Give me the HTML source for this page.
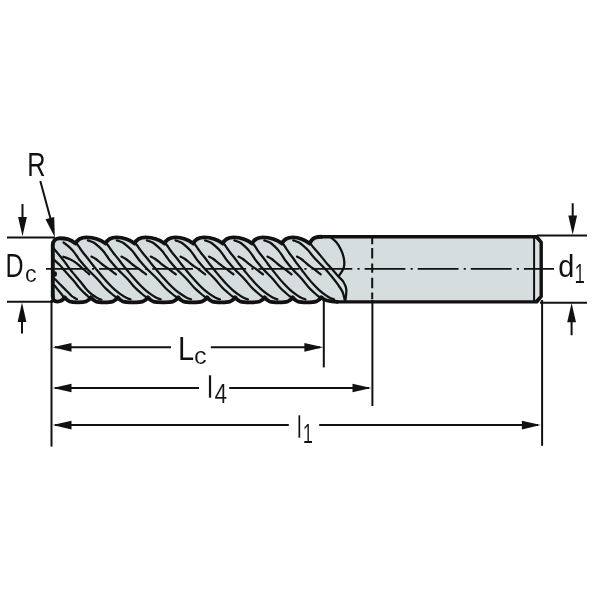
<!DOCTYPE html><html><head><meta charset="utf-8"><style>html,body{margin:0;padding:0;background:#fff;overflow:hidden}svg{display:block}text{font-family:"Liberation Sans",sans-serif}</style></head><body><svg width="600" height="600" viewBox="0 0 600 600">
<defs><clipPath id="tc"><path d="M52.8,296.5 L52.8,245.2 C52.8,241.0 55.4,238.2 59.6,238.2 C65.8,238.2 69.6,238.6 75.6,243.5 C77.8,238.6 82.1,237.4 86.6,237.4 C91.6,237.4 99.6,238.9 105.6,243.5 C107.8,238.6 112.1,237.4 116.6,237.4 C121.6,237.4 128.6,238.9 134.6,243.5 C136.8,238.6 141.1,237.4 145.6,237.4 C150.6,237.4 158.6,238.9 164.6,243.5 C166.8,238.6 171.1,237.4 175.6,237.4 C180.6,237.4 187.3,238.9 193.3,243.5 C195.5,238.6 199.8,237.4 204.3,237.4 C209.3,237.4 216.8,238.9 222.8,243.5 C225.0,238.6 229.3,237.4 233.8,237.4 C238.8,237.4 246.1,238.9 252.1,243.5 C254.3,238.6 258.6,237.4 263.1,237.4 C268.1,237.4 276.0,238.9 282.0,243.5 C284.2,238.6 288.5,237.4 293.0,237.4 C298.0,237.4 303.6,238.9 309.6,243.5 C312.6,237.2 316.6,236.7 321.6,236.7 L537,236.7 L541.2,241.7 L541.2,296.9 L537.5,301.9 L337.3,301.9 C329.3,301.8 324.3,300.8 321.3,297.3 C318.8,301.7 315.3,302.3 307.0,302.3 C298.7,302.3 295.2,301.7 292.7,297.3 C290.2,301.7 286.7,302.3 278.7,302.3 C270.7,302.3 267.2,301.7 264.7,297.3 C262.2,301.7 258.7,302.3 249.95,302.3 C241.2,302.3 237.7,301.7 235.2,297.3 C232.7,301.7 229.2,302.3 221.2,302.3 C213.2,302.3 209.7,301.7 207.2,297.3 C204.7,301.7 201.2,302.3 192.75,302.3 C184.3,302.3 180.8,301.7 178.3,297.3 C175.8,301.7 172.3,302.3 163.15,302.3 C154.0,302.3 150.5,301.7 148.0,297.3 C145.5,301.7 142.0,302.3 132.9,302.3 C123.8,302.3 120.3,301.7 117.8,297.3 C115.3,301.7 111.8,302.3 104.4,302.3 C97.0,302.3 93.5,301.7 91.0,297.3 C88.5,301.7 85.0,302.3 77.875,302.3 C70.75,302.3 67.25,301.7 64.75,297.3 C62.75,300.5 59.75,301.6 57.3,301.6 Q52.8,301.6 52.8,296.5 Z"/></clipPath></defs>
<rect width="600" height="600" fill="#fff"/>
<path d="M52.8,296.5 L52.8,245.2 C52.8,241.0 55.4,238.2 59.6,238.2 C65.8,238.2 69.6,238.6 75.6,243.5 C77.8,238.6 82.1,237.4 86.6,237.4 C91.6,237.4 99.6,238.9 105.6,243.5 C107.8,238.6 112.1,237.4 116.6,237.4 C121.6,237.4 128.6,238.9 134.6,243.5 C136.8,238.6 141.1,237.4 145.6,237.4 C150.6,237.4 158.6,238.9 164.6,243.5 C166.8,238.6 171.1,237.4 175.6,237.4 C180.6,237.4 187.3,238.9 193.3,243.5 C195.5,238.6 199.8,237.4 204.3,237.4 C209.3,237.4 216.8,238.9 222.8,243.5 C225.0,238.6 229.3,237.4 233.8,237.4 C238.8,237.4 246.1,238.9 252.1,243.5 C254.3,238.6 258.6,237.4 263.1,237.4 C268.1,237.4 276.0,238.9 282.0,243.5 C284.2,238.6 288.5,237.4 293.0,237.4 C298.0,237.4 303.6,238.9 309.6,243.5 C312.6,237.2 316.6,236.7 321.6,236.7 L537,236.7 L541.2,241.7 L541.2,296.9 L537.5,301.9 L337.3,301.9 C329.3,301.8 324.3,300.8 321.3,297.3 C318.8,301.7 315.3,302.3 307.0,302.3 C298.7,302.3 295.2,301.7 292.7,297.3 C290.2,301.7 286.7,302.3 278.7,302.3 C270.7,302.3 267.2,301.7 264.7,297.3 C262.2,301.7 258.7,302.3 249.95,302.3 C241.2,302.3 237.7,301.7 235.2,297.3 C232.7,301.7 229.2,302.3 221.2,302.3 C213.2,302.3 209.7,301.7 207.2,297.3 C204.7,301.7 201.2,302.3 192.75,302.3 C184.3,302.3 180.8,301.7 178.3,297.3 C175.8,301.7 172.3,302.3 163.15,302.3 C154.0,302.3 150.5,301.7 148.0,297.3 C145.5,301.7 142.0,302.3 132.9,302.3 C123.8,302.3 120.3,301.7 117.8,297.3 C115.3,301.7 111.8,302.3 104.4,302.3 C97.0,302.3 93.5,301.7 91.0,297.3 C88.5,301.7 85.0,302.3 77.875,302.3 C70.75,302.3 67.25,301.7 64.75,297.3 C62.75,300.5 59.75,301.6 57.3,301.6 Q52.8,301.6 52.8,296.5 Z" fill="#d5dddf"/>
<rect x="534.1" y="236.7" width="7.1" height="65.2" fill="#dbe2e4"/>
<g clip-path="url(#tc)" fill="none" stroke="#111" stroke-width="2.25" stroke-linecap="round" stroke-linejoin="round">
<path d="M63.57,242.50 C64.39,243.15 66.97,245.05 68.50,246.40 C70.02,247.75 71.33,249.00 72.72,250.60 C74.10,252.20 75.53,254.27 76.81,256.00 C78.10,257.73 78.58,258.75 80.42,261.00 C82.26,263.25 85.06,266.53 87.85,269.50 C90.65,272.47 94.32,275.75 97.17,278.80 C100.03,281.85 102.73,285.43 105.00,287.80 C107.27,290.17 109.15,291.57 110.80,293.00 C112.46,294.43 113.77,295.52 114.94,296.40 C116.10,297.28 117.32,297.98 117.80,298.30"/>
<path d="M75.57,242.50 C75.93,242.92 76.91,243.92 77.72,245.00 C78.54,246.08 79.51,247.67 80.45,249.00 C81.39,250.33 82.13,251.42 83.37,253.00 C84.61,254.58 86.40,256.63 87.86,258.50 C89.33,260.37 90.63,262.25 92.15,264.20 C93.68,266.15 95.22,267.97 97.04,270.20 C98.86,272.43 101.08,275.25 103.10,277.60 C105.12,279.95 107.24,282.30 109.17,284.30 C111.10,286.30 112.85,288.02 114.67,289.60 C116.49,291.18 118.24,292.50 120.09,293.80 C121.93,295.10 123.98,296.47 125.72,297.40 C127.45,298.33 129.70,299.07 130.50,299.40"/>
<path d="M91.40,256.60 C92.14,257.00 94.32,257.95 95.85,259.00 C97.38,260.05 99.10,261.70 100.58,262.90 C102.06,264.10 103.24,265.13 104.72,266.20 C106.20,267.27 108.08,268.32 109.46,269.30 C110.84,270.28 111.92,271.27 113.00,272.10 C114.09,272.93 115.47,273.93 115.96,274.30"/>
<path d="M87.90,240.40 C88.85,240.75 91.81,241.50 93.58,242.50 C95.35,243.50 96.99,245.05 98.52,246.40 C100.04,247.75 101.36,249.00 102.75,250.60 C104.14,252.20 105.57,254.27 106.86,256.00 C108.15,257.73 108.64,258.75 110.49,261.00 C112.33,263.25 115.15,266.53 117.95,269.50 C120.76,272.47 124.44,275.75 127.31,278.80 C130.18,281.85 132.89,285.43 135.16,287.80 C137.44,290.17 139.32,291.57 140.98,293.00 C142.64,294.43 143.96,295.52 145.13,296.40 C146.30,297.28 147.52,297.98 148.00,298.30"/>
<path d="M105.58,242.50 C105.94,242.92 106.92,243.92 107.74,245.00 C108.55,246.08 109.53,247.67 110.47,249.00 C111.42,250.33 112.17,251.42 113.41,253.00 C114.65,254.58 116.45,256.63 117.93,258.50 C119.40,260.37 120.70,262.25 122.24,264.20 C123.77,266.15 125.31,267.97 127.14,270.20 C128.97,272.43 131.20,275.25 133.23,277.60 C135.25,279.95 137.38,282.30 139.32,284.30 C141.26,286.30 143.01,288.02 144.84,289.60 C146.66,291.18 148.42,292.50 150.27,293.80 C152.12,295.10 154.18,296.47 155.91,297.40 C157.65,298.33 159.90,299.07 160.70,299.40"/>
<path d="M121.45,256.60 C122.20,257.00 124.38,257.95 125.92,259.00 C127.45,260.05 129.17,261.70 130.66,262.90 C132.14,264.10 133.32,265.13 134.80,266.20 C136.29,267.27 138.17,268.32 139.56,269.30 C140.94,270.28 142.02,271.27 143.11,272.10 C144.20,272.93 145.58,273.93 146.08,274.30"/>
<path d="M116.90,240.40 C117.85,240.75 120.82,241.50 122.61,242.50 C124.40,243.50 126.08,245.05 127.64,246.40 C129.20,247.75 130.54,249.00 131.97,250.60 C133.39,252.20 134.88,254.27 136.20,256.00 C137.53,257.73 138.04,258.75 139.94,261.00 C141.84,263.25 144.73,266.53 147.60,269.50 C150.47,272.47 154.23,275.75 157.16,278.80 C160.10,281.85 162.89,285.43 165.23,287.80 C167.56,290.17 169.47,291.57 171.16,293.00 C172.86,294.43 174.20,295.52 175.39,296.40 C176.58,297.28 177.81,297.98 178.30,298.30"/>
<path d="M134.61,242.50 C134.98,242.92 135.99,243.92 136.83,245.00 C137.67,246.08 138.68,247.67 139.66,249.00 C140.63,250.33 141.41,251.42 142.68,253.00 C143.96,254.58 145.81,256.63 147.32,258.50 C148.84,260.37 150.18,262.25 151.76,264.20 C153.34,266.15 154.92,267.97 156.80,270.20 C158.69,272.43 160.97,275.25 163.06,277.60 C165.14,279.95 167.32,282.30 169.30,284.30 C171.28,286.30 173.08,288.02 174.94,289.60 C176.80,291.18 178.59,292.50 180.47,293.80 C182.34,295.10 184.44,296.47 186.19,297.40 C187.95,298.33 190.20,299.07 191.00,299.40"/>
<path d="M150.81,256.60 C151.56,257.00 153.77,257.95 155.33,259.00 C156.88,260.05 158.64,261.70 160.15,262.90 C161.66,264.10 162.87,265.13 164.38,266.20 C165.88,267.27 167.79,268.32 169.20,269.30 C170.60,270.28 171.71,271.27 172.82,272.10 C173.92,272.93 175.33,273.93 175.83,274.30"/>
<path d="M146.90,240.40 C147.85,240.75 150.81,241.50 152.58,242.50 C154.35,243.50 156.00,245.05 157.53,246.40 C159.07,247.75 160.39,249.00 161.78,250.60 C163.18,252.20 164.62,254.27 165.92,256.00 C167.21,257.73 167.70,258.75 169.56,261.00 C171.41,263.25 174.24,266.53 177.05,269.50 C179.87,272.47 183.56,275.75 186.44,278.80 C189.32,281.85 192.04,285.43 194.33,287.80 C196.62,290.17 198.50,291.57 200.16,293.00 C201.83,294.43 203.15,295.52 204.32,296.40 C205.50,297.28 206.72,297.98 207.20,298.30"/>
<path d="M164.58,242.50 C164.94,242.92 165.93,243.92 166.75,245.00 C167.57,246.08 168.55,247.67 169.50,249.00 C170.45,250.33 171.21,251.42 172.45,253.00 C173.70,254.58 175.51,256.63 176.99,258.50 C178.46,260.37 179.77,262.25 181.32,264.20 C182.86,266.15 184.40,267.97 186.24,270.20 C188.08,272.43 190.31,275.25 192.35,277.60 C194.39,279.95 196.53,282.30 198.47,284.30 C200.41,286.30 202.18,288.02 204.01,289.60 C205.84,291.18 207.60,292.50 209.45,293.80 C211.31,295.10 213.37,296.47 215.11,297.40 C216.85,298.33 219.10,299.07 219.90,299.40"/>
<path d="M180.51,256.60 C181.25,257.00 183.44,257.95 184.98,259.00 C186.52,260.05 188.25,261.70 189.73,262.90 C191.22,264.10 192.41,265.13 193.89,266.20 C195.38,267.27 197.27,268.32 198.65,269.30 C200.04,270.28 201.13,271.27 202.22,272.10 C203.31,272.93 204.70,273.93 205.19,274.30"/>
<path d="M175.60,240.40 C176.54,240.75 179.50,241.50 181.26,242.50 C183.02,243.50 184.65,245.05 186.17,246.40 C187.69,247.75 188.99,249.00 190.37,250.60 C191.74,252.20 193.16,254.27 194.43,256.00 C195.71,257.73 196.18,258.75 198.01,261.00 C199.84,263.25 202.63,266.53 205.40,269.50 C208.18,272.47 211.83,275.75 214.68,278.80 C217.52,281.85 220.20,285.43 222.46,287.80 C224.72,290.17 226.58,291.57 228.23,293.00 C229.88,294.43 231.18,295.52 232.35,296.40 C233.51,297.28 234.72,297.98 235.20,298.30"/>
<path d="M193.26,242.50 C193.62,242.92 194.60,243.92 195.40,245.00 C196.21,246.08 197.17,247.67 198.10,249.00 C199.04,250.33 199.78,251.42 201.01,253.00 C202.23,254.58 204.02,256.63 205.47,258.50 C206.93,260.37 208.21,262.25 209.73,264.20 C211.25,266.15 212.77,267.97 214.59,270.20 C216.40,272.43 218.60,275.25 220.61,277.60 C222.62,279.95 224.72,282.30 226.64,284.30 C228.56,286.30 230.30,288.02 232.11,289.60 C233.92,291.18 235.68,292.50 237.51,293.80 C239.34,295.10 241.39,296.47 243.12,297.40 C244.85,298.33 247.10,299.07 247.90,299.40"/>
<path d="M209.02,256.60 C209.76,257.00 211.94,257.95 213.46,259.00 C214.98,260.05 216.69,261.70 218.16,262.90 C219.64,264.10 220.81,265.13 222.28,266.20 C223.76,267.27 225.63,268.32 227.01,269.30 C228.38,270.28 229.46,271.27 230.54,272.10 C231.62,272.93 233.00,273.93 233.49,274.30"/>
<path d="M205.10,240.40 C206.04,240.75 209.00,241.50 210.76,242.50 C212.52,243.50 214.15,245.05 215.67,246.40 C217.19,247.75 218.49,249.00 219.87,250.60 C221.24,252.20 222.66,254.27 223.93,256.00 C225.21,257.73 225.68,258.75 227.51,261.00 C229.34,263.25 232.13,266.53 234.90,269.50 C237.68,272.47 241.33,275.75 244.18,278.80 C247.02,281.85 249.70,285.43 251.96,287.80 C254.22,290.17 256.08,291.57 257.73,293.00 C259.38,294.43 260.68,295.52 261.85,296.40 C263.01,297.28 264.22,297.98 264.70,298.30"/>
<path d="M222.76,242.50 C223.12,242.92 224.10,243.92 224.90,245.00 C225.71,246.08 226.67,247.67 227.60,249.00 C228.54,250.33 229.28,251.42 230.51,253.00 C231.73,254.58 233.52,256.63 234.97,258.50 C236.43,260.37 237.71,262.25 239.23,264.20 C240.75,266.15 242.27,267.97 244.09,270.20 C245.90,272.43 248.10,275.25 250.11,277.60 C252.12,279.95 254.22,282.30 256.14,284.30 C258.06,286.30 259.80,288.02 261.61,289.60 C263.42,291.18 265.18,292.50 267.01,293.80 C268.84,295.10 270.89,296.47 272.62,297.40 C274.35,298.33 276.60,299.07 277.40,299.40"/>
<path d="M238.52,256.60 C239.26,257.00 241.44,257.95 242.96,259.00 C244.48,260.05 246.19,261.70 247.66,262.90 C249.14,264.10 250.31,265.13 251.78,266.20 C253.26,267.27 255.13,268.32 256.51,269.30 C257.88,270.28 258.96,271.27 260.04,272.10 C261.12,272.93 262.50,273.93 262.99,274.30"/>
<path d="M234.40,240.40 C235.34,240.75 238.29,241.50 240.03,242.50 C241.77,243.50 243.36,245.05 244.85,246.40 C246.33,247.75 247.61,249.00 248.95,250.60 C250.29,252.20 251.66,254.27 252.89,256.00 C254.13,257.73 254.58,258.75 256.36,261.00 C258.13,263.25 260.85,266.53 263.56,269.50 C266.27,272.47 269.85,275.75 272.62,278.80 C275.39,281.85 277.99,285.43 280.19,287.80 C282.40,290.17 284.23,291.57 285.85,293.00 C287.47,294.43 288.75,295.52 289.89,296.40 C291.03,297.28 292.23,297.98 292.70,298.30"/>
<path d="M252.03,242.50 C252.38,242.92 253.33,243.92 254.11,245.00 C254.89,246.08 255.82,247.67 256.72,249.00 C257.63,250.33 258.34,251.42 259.53,253.00 C260.73,254.58 262.46,256.63 263.88,258.50 C265.29,260.37 266.53,262.25 268.01,264.20 C269.48,266.15 270.96,267.97 272.72,270.20 C274.49,272.43 276.62,275.25 278.58,277.60 C280.53,279.95 282.59,282.30 284.46,284.30 C286.33,286.30 288.03,288.02 289.81,289.60 C291.59,291.18 293.31,292.50 295.11,293.80 C296.92,295.10 298.93,296.47 300.64,297.40 C302.36,298.33 304.61,299.07 305.40,299.40"/>
<path d="M267.46,256.60 C268.20,257.00 270.35,257.95 271.85,259.00 C273.35,260.05 275.02,261.70 276.47,262.90 C277.91,264.10 279.06,265.13 280.51,266.20 C281.96,267.27 283.81,268.32 285.17,269.30 C286.52,270.28 287.57,271.27 288.63,272.10 C289.70,272.93 291.05,273.93 291.53,274.30"/>
<path d="M264.30,240.40 C265.23,240.75 268.17,241.50 269.90,242.50 C271.62,243.50 273.17,245.05 274.62,246.40 C276.08,247.75 277.32,249.00 278.63,250.60 C279.93,252.20 281.26,254.27 282.45,256.00 C283.65,257.73 284.08,258.75 285.80,261.00 C287.53,263.25 290.17,266.53 292.81,269.50 C295.45,272.47 298.96,275.75 301.66,278.80 C304.37,281.85 306.88,285.43 309.03,287.80 C311.18,290.17 312.99,291.57 314.57,293.00 C316.15,294.43 317.41,295.52 318.53,296.40 C319.65,297.28 320.84,297.98 321.30,298.30"/>
<path d="M281.90,242.50 C282.23,242.92 283.16,243.92 283.92,245.00 C284.68,246.08 285.57,247.67 286.44,249.00 C287.32,250.33 288.01,251.42 289.16,253.00 C290.32,254.58 292.01,256.63 293.38,258.50 C294.75,260.37 295.95,262.25 297.38,264.20 C298.81,266.15 300.25,267.97 301.96,270.20 C303.67,272.43 305.74,275.25 307.65,277.60 C309.55,279.95 311.55,282.30 313.38,284.30 C315.20,286.30 316.87,288.02 318.61,289.60 C320.35,291.18 322.04,292.50 323.81,293.80 C325.59,295.10 327.57,296.47 329.26,297.40 C330.96,298.33 333.21,299.07 334.00,299.40"/>
<path d="M297.01,256.60 C297.73,257.00 299.87,257.95 301.34,259.00 C302.82,260.05 304.45,261.70 305.87,262.90 C307.29,264.10 308.42,265.13 309.84,266.20 C311.27,267.27 313.09,268.32 314.42,269.30 C315.76,270.28 316.79,271.27 317.83,272.10 C318.87,272.93 320.20,273.93 320.68,274.30"/>
<path d="M52.00,246.50 C52.50,247.08 53.67,248.42 55.00,250.00 C56.33,251.58 58.28,253.88 60.00,256.00 C61.72,258.12 63.63,260.48 65.30,262.70 C66.97,264.92 68.35,267.17 70.00,269.30 C71.65,271.43 73.38,273.33 75.20,275.50 C77.02,277.67 79.18,280.18 80.90,282.30 C82.62,284.42 83.98,286.45 85.50,288.20 C87.02,289.95 88.55,291.50 90.00,292.80 C91.45,294.10 92.82,295.05 94.20,296.00 C95.58,296.95 97.08,297.88 98.30,298.50 C99.52,299.12 100.97,299.50 101.50,299.70"/>
<path d="M53.00,258.80 C53.33,259.12 53.83,259.62 55.00,260.70 C56.17,261.78 58.50,263.75 60.00,265.30 C61.50,266.85 62.45,268.22 64.00,270.00 C65.55,271.78 67.52,274.00 69.30,276.00 C71.08,278.00 73.08,280.08 74.70,282.00 C76.32,283.92 77.62,285.87 79.00,287.50 C80.38,289.13 81.72,290.52 83.00,291.80 C84.28,293.08 85.65,294.25 86.70,295.20 C87.75,296.15 88.53,296.98 89.30,297.50 C90.07,298.02 90.97,298.17 91.30,298.30"/>
<path d="M63.30,256.70 C64.42,257.13 67.77,258.20 70.00,259.30 C72.23,260.40 74.70,261.85 76.70,263.30 C78.70,264.75 80.33,266.55 82.00,268.00 C83.67,269.45 85.48,270.95 86.70,272.00 C87.92,273.05 88.87,273.92 89.30,274.30"/>
<path d="M53.00,277.50 C53.33,277.80 53.83,278.17 55.00,279.30 C56.17,280.43 58.05,282.35 60.00,284.30 C61.95,286.25 64.75,289.05 66.70,291.00 C68.65,292.95 70.45,294.88 71.70,296.00 C72.95,297.12 73.32,297.17 74.20,297.70 C75.08,298.23 76.53,298.95 77.00,299.20"/>
<path d="M53.00,284.30 C53.33,284.58 54.12,285.02 55.00,286.00 C55.88,286.98 57.18,288.82 58.30,290.20 C59.42,291.58 60.87,293.20 61.70,294.30 C62.53,295.40 62.85,296.25 63.30,296.80 C63.75,297.35 64.22,297.47 64.40,297.60"/>
<path d="M293.30,240.40 C294.25,240.75 297.22,241.50 299.00,242.50 C300.78,243.50 302.45,245.05 304.00,246.40 C305.55,247.75 306.52,248.63 308.30,250.60 C310.08,252.57 311.92,255.17 314.70,258.20 C317.48,261.23 322.20,265.78 325.00,268.80 C327.80,271.82 329.33,273.65 331.50,276.30 C333.67,278.95 336.13,282.05 338.00,284.70 C339.87,287.35 341.60,289.73 342.70,292.20 C343.80,294.67 344.28,298.28 344.60,299.50"/>
<path d="M309.60,241.50 C309.93,242.10 309.82,242.78 311.60,245.10 C313.38,247.42 317.45,251.98 320.30,255.40 C323.15,258.82 326.65,263.22 328.70,265.60 C330.75,267.98 331.05,267.97 332.60,269.70 C334.15,271.43 336.18,273.95 338.00,276.00 C339.82,278.05 342.12,279.77 343.50,282.00 C344.88,284.23 345.97,286.40 346.30,289.40 C346.63,292.40 345.63,298.23 345.50,300.00"/>
<path d="M330.60,237.20 C331.57,238.05 334.67,240.20 336.40,242.30 C338.13,244.40 339.77,247.15 341.00,249.80 C342.23,252.45 343.27,255.57 343.80,258.20 C344.33,260.83 344.40,263.60 344.20,265.60 C344.00,267.60 343.43,268.57 342.60,270.20 C341.77,271.83 339.77,274.53 339.20,275.40"/>
</g>
<line x1="46" y1="268.9" x2="554" y2="268.9" stroke="#111" stroke-width="1.9" stroke-dasharray="40.8 5.2 2.1 5"/>
<line x1="372.2" y1="238" x2="372.2" y2="300" stroke="#111" stroke-width="2" stroke-dasharray="6.3 3.7 10.5 5 9.2 5 10.5 4.3 6.8 10"/>
<line x1="534.1" y1="236.7" x2="534.1" y2="301.9" stroke="#111" stroke-width="2"/>
<path d="M535.3,237.6 L539.4,241.6 M535.3,300.8 L539.4,296.6" stroke="#111" stroke-width="1.1" fill="none"/>
<g fill="none" stroke="#111" stroke-width="3.4" stroke-linejoin="round" stroke-linecap="round">
<path d="M52.8,296.5 L52.8,245.2 C52.8,241.0 55.4,238.2 59.6,238.2 C65.8,238.2 69.6,238.6 75.6,243.5 C77.8,238.6 82.1,237.4 86.6,237.4 C91.6,237.4 99.6,238.9 105.6,243.5 C107.8,238.6 112.1,237.4 116.6,237.4 C121.6,237.4 128.6,238.9 134.6,243.5 C136.8,238.6 141.1,237.4 145.6,237.4 C150.6,237.4 158.6,238.9 164.6,243.5 C166.8,238.6 171.1,237.4 175.6,237.4 C180.6,237.4 187.3,238.9 193.3,243.5 C195.5,238.6 199.8,237.4 204.3,237.4 C209.3,237.4 216.8,238.9 222.8,243.5 C225.0,238.6 229.3,237.4 233.8,237.4 C238.8,237.4 246.1,238.9 252.1,243.5 C254.3,238.6 258.6,237.4 263.1,237.4 C268.1,237.4 276.0,238.9 282.0,243.5 C284.2,238.6 288.5,237.4 293.0,237.4 C298.0,237.4 303.6,238.9 309.6,243.5 C312.6,237.2 316.6,236.7 321.6,236.7" stroke-width="3.9"/>
<path d="M52.8,296.5 Q52.8,301.6 57.3,301.6 C59.75,301.6 62.75,300.5 64.75,297.3 C67.25,301.7 70.75,302.3 77.875,302.3 C85.0,302.3 88.5,301.7 91.0,297.3 C93.5,301.7 97.0,302.3 104.4,302.3 C111.8,302.3 115.3,301.7 117.8,297.3 C120.3,301.7 123.8,302.3 132.9,302.3 C142.0,302.3 145.5,301.7 148.0,297.3 C150.5,301.7 154.0,302.3 163.15,302.3 C172.3,302.3 175.8,301.7 178.3,297.3 C180.8,301.7 184.3,302.3 192.75,302.3 C201.2,302.3 204.7,301.7 207.2,297.3 C209.7,301.7 213.2,302.3 221.2,302.3 C229.2,302.3 232.7,301.7 235.2,297.3 C237.7,301.7 241.2,302.3 249.95,302.3 C258.7,302.3 262.2,301.7 264.7,297.3 C267.2,301.7 270.7,302.3 278.7,302.3 C286.7,302.3 290.2,301.7 292.7,297.3 C295.2,301.7 298.7,302.3 307.0,302.3 C315.3,302.3 318.8,301.7 321.3,297.3 C324.3,300.8 329.3,301.8 337.3,301.8" stroke-width="3.8"/>
<path d="M321.6,236.7 L536.6,236.7 L541.2,242.3 L541.2,296.5 L536.8,301.9 L337.3,301.9"/>
</g>
<ellipse cx="55.3" cy="274" rx="1.7" ry="2.7" fill="#111"/>
<g stroke="#111" stroke-width="2" fill="none">
<path d="M7,237.5 H55 M7,301.8 H53"/>
<path d="M537,235.6 H587 M540,302.7 H587"/>
<path d="M22.5,204 V222 M22,333.5 V316"/>
<path d="M572.7,203.3 V222 M571.6,335.3 V316"/>
<path d="M51.5,300 V446.6"/>
<path d="M323.8,300 V367.4"/>
<path d="M372.4,300 V406"/>
<path d="M542.1,300 V445.8"/>
<path d="M55,347.3 H171 M210.8,347.3 H320"/>
<path d="M55,388 H199 M229.2,388 H369"/>
<path d="M55,425.1 H288.8 M319.2,425.1 H538"/>
<path d="M40.3,181.0 L53.6,230"/>
</g>
<path d="M22.50,236.30 L26.90,217.00 L18.10,217.00 Z" fill="#111"/>
<path d="M22.00,302.60 L17.60,321.90 L26.40,321.90 Z" fill="#111"/>
<path d="M572.70,234.80 L577.10,215.50 L568.30,215.50 Z" fill="#111"/>
<path d="M571.60,302.90 L567.20,322.20 L576.00,322.20 Z" fill="#111"/>
<path d="M52.70,347.30 L71.50,351.65 L71.50,342.95 Z" fill="#111"/>
<path d="M323.20,347.30 L304.40,342.95 L304.40,351.65 Z" fill="#111"/>
<path d="M52.70,388.00 L71.50,392.35 L71.50,383.65 Z" fill="#111"/>
<path d="M371.30,388.00 L352.50,383.65 L352.50,392.35 Z" fill="#111"/>
<path d="M52.70,425.10 L71.50,429.45 L71.50,420.75 Z" fill="#111"/>
<path d="M540.70,425.10 L521.90,420.75 L521.90,429.45 Z" fill="#111"/>
<path d="M54.80,237.20 L54.21,216.90 L45.50,219.15 Z" fill="#111"/>
<g style="will-change:transform" font-family="Liberation Sans, sans-serif" fill="#111">
<text transform="translate(27.128 175.800) scale(0.74596 1)" font-size="33.867">R</text>
<text transform="translate(5.550 277.200) scale(0.75401 1)" font-size="33.140">D</text>
<text transform="translate(24.957 281.919) scale(0.94106 1)" font-size="24.678" stroke="#fff" stroke-width="0.120">c</text>
<text transform="translate(558.286 277.194) scale(0.92300 1)" font-size="31.319">d</text>
<text transform="translate(574.518 282.575) scale(0.67505 1)" font-size="27.835" stroke="#fff" stroke-width="0.150">1</text>
<text transform="translate(178.019 359.600) scale(0.87599 1)" font-size="33.140">L</text>
<text transform="translate(194.061 363.923) scale(1.04220 1)" font-size="24.313" stroke="#fff" stroke-width="0.120">c</text>
<text transform="translate(206.973 397.725) scale(0.86601 1)" font-size="31.396" stroke="#fff" stroke-width="0.450">l</text>
<text transform="translate(214.418 402.975) scale(0.82745 1)" font-size="27.399" stroke="#fff" stroke-width="0.150">4</text>
<text transform="translate(296.380 437.925) scale(0.77131 1)" font-size="31.672" stroke="#fff" stroke-width="0.450">l</text>
<text transform="translate(302.754 442.775) scale(0.66878 1)" font-size="27.399" stroke="#fff" stroke-width="0.150">1</text>
</g>
</svg></body></html>
